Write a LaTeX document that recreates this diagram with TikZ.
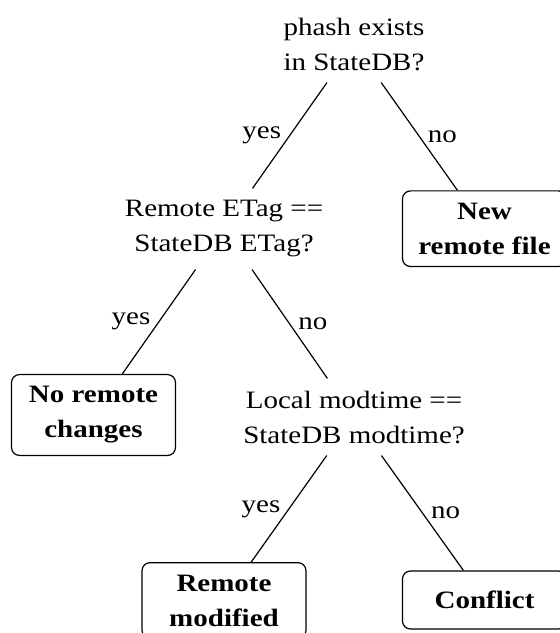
\documentclass[tikz,border=0pt]{standalone}
\usepackage{fontspec}
\setmainfont{Liberation Serif}[FakeStretch=1.16]
\begin{document}
\begin{tikzpicture}[x=1pt,y=-1pt]
\tikzset{
  txt/.style={font=\fontsize{25}{35}\selectfont},
  question/.style={txt, align=center, inner sep=12pt},
  outcome/.style={draw, line width=1.2pt, rounded corners=8pt, align=center,
    inner sep=12pt, minimum width=164pt, minimum height=58pt,
    font=\bfseries\fontsize{25}{35}\selectfont},
  branch/.style={line width=1.2pt},
  lbl/.style={txt, midway, inner sep=8pt}
}
\useasboundingbox (0,0) rectangle (560,633);

\node[question] (root) at (354,44) {phash exists\\in StateDB?};
\node[question] (etag) at (224,229) {Remote ETag ==\\StateDB ETag?};
\node[outcome] (newfile) at (484.5,228.7) {New\\remote file};
\node[outcome] (nochange) at (93.5,415) {No remote\\changes};
\node[question] (mtime) at (354,417) {Local modtime ==\\StateDB modtime?};
\node[outcome] (remmod) at (224,600.5) {Remote\\modified};
\node[outcome] (conflict) at (484.5,600) {Conflict};

\draw[branch] (root) -- node[lbl, left] {yes} (etag);
\draw[branch] (root) -- node[lbl, right] {no} (newfile);
\draw[branch] (etag) -- node[lbl, left] {yes} (nochange);
\draw[branch] (etag) -- node[lbl, right] {no} (mtime);
\draw[branch] (mtime) -- node[lbl, left] {yes} (remmod);
\draw[branch] (mtime) -- node[lbl, right] {no} (conflict);
\end{tikzpicture}
\end{document}
